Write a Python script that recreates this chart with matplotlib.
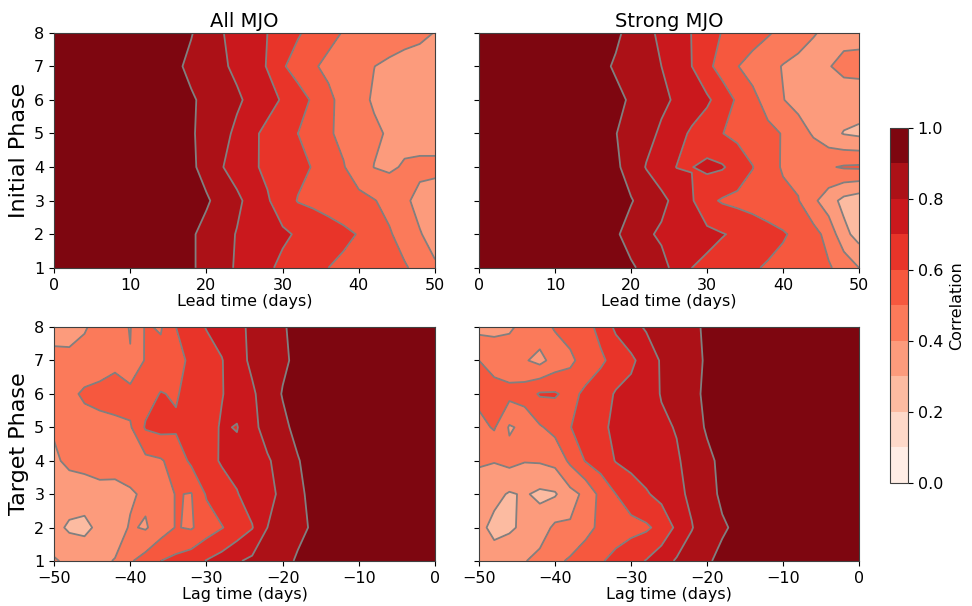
import numpy as np
import matplotlib
matplotlib.use('Agg')
import matplotlib.pyplot as plt

phases = [1, 2, 3, 4, 5, 6, 7, 8]
lead_days = [0, 10, 16, 18, 20, 22, 24, 26, 28, 30, 32, 34, 36, 38, 40, 42, 44, 46, 48, 50]
lag_days = [-50, -48, -46, -44, -42, -40, -38, -36, -34, -32, -30, -28, -26, -24, -22, -20, -18, -16, -14, -10, 0]

# correlation, rows = phase 1..8, columns = lead_days
corr_all_lead = [
    [1, 0.96, 0.93, 0.91, 0.875, 0.83, 0.79, 0.75, 0.715, 0.68, 0.655, 0.63, 0.60, 0.58, 0.565, 0.545, 0.525, 0.51, 0.47, 0.41],
    [1, 0.96, 0.93, 0.91, 0.875, 0.835, 0.795, 0.77, 0.745, 0.715, 0.69, 0.665, 0.645, 0.62, 0.595, 0.555, 0.51, 0.46, 0.405, 0.37],
    [1, 0.96, 0.935, 0.925, 0.91, 0.87, 0.82, 0.765, 0.71, 0.65, 0.595, 0.58, 0.56, 0.545, 0.525, 0.505, 0.47, 0.415, 0.375, 0.36],
    [1, 0.96, 0.93, 0.915, 0.87, 0.805, 0.76, 0.715, 0.68, 0.655, 0.625, 0.595, 0.55, 0.505, 0.45, 0.398, 0.385, 0.41, 0.42, 0.42],
    [1, 0.96, 0.93, 0.91, 0.87, 0.83, 0.78, 0.72, 0.675, 0.64, 0.60, 0.555, 0.51, 0.48, 0.445, 0.415, 0.39, 0.37, 0.36, 0.36],
    [1, 0.955, 0.93, 0.91, 0.88, 0.85, 0.815, 0.775, 0.735, 0.69, 0.64, 0.587, 0.52, 0.47, 0.425, 0.39, 0.37, 0.36, 0.36, 0.36],
    [1, 0.95, 0.915, 0.88, 0.85, 0.815, 0.78, 0.74, 0.695, 0.61, 0.56, 0.51, 0.48, 0.453, 0.427, 0.401, 0.38, 0.37, 0.37, 0.37],
    [1, 0.96, 0.93, 0.905, 0.86, 0.805, 0.77, 0.735, 0.70, 0.655, 0.61, 0.57, 0.525, 0.495, 0.48, 0.465, 0.455, 0.43, 0.415, 0.398],
]

corr_strong_lead = [
    [1, 0.965, 0.94, 0.925, 0.91, 0.88, 0.83, 0.77, 0.70, 0.68, 0.655, 0.63, 0.61, 0.59, 0.57, 0.55, 0.53, 0.51, 0.465, 0.40],
    [1, 0.96, 0.93, 0.91, 0.87, 0.815, 0.785, 0.765, 0.745, 0.725, 0.705, 0.685, 0.66, 0.635, 0.61, 0.575, 0.535, 0.465, 0.33, 0.26],
    [1, 0.965, 0.94, 0.925, 0.905, 0.87, 0.825, 0.77, 0.71, 0.625, 0.59, 0.575, 0.56, 0.54, 0.525, 0.505, 0.42, 0.345, 0.27, 0.24],
    [1, 0.96, 0.93, 0.915, 0.865, 0.795, 0.745, 0.698, 0.698, 0.72, 0.71, 0.66, 0.603, 0.54, 0.49, 0.47, 0.47, 0.49, 0.51, 0.515],
    [1, 0.96, 0.925, 0.902, 0.87, 0.83, 0.785, 0.735, 0.685, 0.645, 0.602, 0.575, 0.55, 0.523, 0.495, 0.44, 0.39, 0.335, 0.295, 0.28],
    [1, 0.96, 0.935, 0.92, 0.89, 0.855, 0.82, 0.787, 0.752, 0.716, 0.655, 0.585, 0.525, 0.465, 0.403, 0.37, 0.355, 0.35, 0.35, 0.35],
    [1, 0.955, 0.92, 0.89, 0.86, 0.83, 0.80, 0.75, 0.70, 0.625, 0.56, 0.503, 0.465, 0.43, 0.395, 0.375, 0.37, 0.395, 0.425, 0.43],
    [1, 0.96, 0.93, 0.915, 0.875, 0.825, 0.78, 0.74, 0.698, 0.65, 0.595, 0.565, 0.54, 0.51, 0.475, 0.44, 0.405, 0.385, 0.37, 0.37],
]

# rows = phase 1..8, columns = lag_days
corr_all_lag = [
    [0.41, 0.38, 0.385, 0.38, 0.405, 0.49, 0.54, 0.60, 0.625, 0.66, 0.705, 0.74, 0.79, 0.82, 0.845, 0.875, 0.91, 0.935, 0.95, 0.97, 1],
    [0.33, 0.285, 0.27, 0.33, 0.35, 0.41, 0.39, 0.45, 0.505, 0.49, 0.55, 0.595, 0.64, 0.695, 0.80, 0.85, 0.88, 0.91, 0.93, 0.96, 1],
    [0.35, 0.35, 0.355, 0.37, 0.36, 0.385, 0.42, 0.45, 0.505, 0.495, 0.61, 0.655, 0.695, 0.74, 0.775, 0.82, 0.88, 0.925, 0.945, 0.965, 1],
    [0.385, 0.42, 0.43, 0.44, 0.45, 0.46, 0.475, 0.49, 0.54, 0.62, 0.665, 0.71, 0.73, 0.76, 0.79, 0.835, 0.895, 0.935, 0.95, 0.97, 1],
    [0.41, 0.43, 0.45, 0.47, 0.48, 0.49, 0.61, 0.63, 0.615, 0.645, 0.66, 0.71, 0.695, 0.775, 0.835, 0.88, 0.925, 0.94, 0.95, 0.97, 1],
    [0.43, 0.47, 0.52, 0.53, 0.535, 0.54, 0.56, 0.605, 0.59, 0.64, 0.67, 0.695, 0.74, 0.785, 0.85, 0.905, 0.925, 0.94, 0.95, 0.97, 1],
    [0.43, 0.42, 0.42, 0.45, 0.48, 0.405, 0.51, 0.535, 0.575, 0.615, 0.655, 0.695, 0.76, 0.82, 0.85, 0.885, 0.92, 0.94, 0.955, 0.97, 1],
    [0.36, 0.37, 0.395, 0.42, 0.44, 0.395, 0.51, 0.49, 0.60, 0.655, 0.705, 0.74, 0.78, 0.815, 0.85, 0.89, 0.93, 0.945, 0.955, 0.97, 1],
]

corr_strong_lag = [
    [0.36, 0.35, 0.37, 0.395, 0.43, 0.475, 0.515, 0.55, 0.59, 0.63, 0.665, 0.705, 0.76, 0.81, 0.85, 0.89, 0.92, 0.94, 0.95, 0.97, 1],
    [0.33, 0.27, 0.285, 0.32, 0.35, 0.42, 0.41, 0.47, 0.52, 0.55, 0.57, 0.585, 0.63, 0.72, 0.795, 0.86, 0.89, 0.915, 0.935, 0.96, 1],
    [0.36, 0.33, 0.29, 0.31, 0.28, 0.29, 0.37, 0.42, 0.53, 0.60, 0.65, 0.69, 0.73, 0.775, 0.82, 0.87, 0.915, 0.935, 0.95, 0.97, 1],
    [0.41, 0.405, 0.43, 0.405, 0.41, 0.43, 0.52, 0.605, 0.645, 0.705, 0.73, 0.75, 0.77, 0.79, 0.83, 0.88, 0.92, 0.94, 0.955, 0.97, 1],
    [0.47, 0.51, 0.39, 0.42, 0.49, 0.53, 0.598, 0.63, 0.68, 0.72, 0.745, 0.765, 0.785, 0.805, 0.86, 0.91, 0.93, 0.945, 0.955, 0.97, 1],
    [0.53, 0.54, 0.53, 0.55, 0.61, 0.61, 0.57, 0.62, 0.65, 0.71, 0.73, 0.76, 0.805, 0.84, 0.88, 0.915, 0.935, 0.95, 0.96, 0.97, 1],
    [0.50, 0.46, 0.44, 0.41, 0.37, 0.44, 0.48, 0.54, 0.585, 0.63, 0.68, 0.745, 0.81, 0.84, 0.875, 0.91, 0.935, 0.95, 0.96, 0.97, 1],
    [0.37, 0.375, 0.39, 0.42, 0.46, 0.51, 0.54, 0.57, 0.625, 0.72, 0.77, 0.81, 0.83, 0.85, 0.88, 0.915, 0.935, 0.95, 0.96, 0.97, 1],
]

levels = np.linspace(0, 1, 11)
fs = 11.5

fig = plt.figure(figsize=(9.72, 6.06), dpi=100)
ax_tl = fig.add_axes([0.0556, 0.558, 0.392, 0.388])
ax_tr = fig.add_axes([0.4928, 0.558, 0.391, 0.388])
ax_bl = fig.add_axes([0.0556, 0.0743, 0.392, 0.386])
ax_br = fig.add_axes([0.4928, 0.0743, 0.391, 0.386])
cax = fig.add_axes([0.9156, 0.203, 0.0185, 0.586])


def draw(ax, x, z):
    cf = ax.contourf(x, phases, np.array(z), levels=levels, cmap='Reds')
    ax.contour(x, phases, np.array(z), levels=levels[1:-1], colors='gray', linewidths=1.3)
    ax.set_yticks(phases)
    ax.tick_params(labelsize=fs)
    for s in ax.spines.values():
        s.set_edgecolor('0.25')
    return cf


cf = draw(ax_tl, lead_days, corr_all_lead)
draw(ax_tr, lead_days, corr_strong_lead)
draw(ax_bl, lag_days, corr_all_lag)
draw(ax_br, lag_days, corr_strong_lag)

for ax in [ax_tl, ax_tr]:
    ax.set_xticks([0, 10, 20, 30, 40, 50])
    ax.set_xlabel('Lead time (days)', fontsize=fs, labelpad=1)
for ax in [ax_bl, ax_br]:
    ax.set_xticks([-50, -40, -30, -20, -10, 0])
    ax.set_xlabel('Lag time (days)', fontsize=fs, labelpad=1)
for ax in [ax_tr, ax_br]:
    ax.set_yticklabels([])

ax_tl.set_title('All MJO', fontsize=14, pad=4)
ax_tr.set_title('Strong MJO', fontsize=14, pad=4)
ax_tl.set_ylabel('Initial Phase', fontsize=16)
ax_bl.set_ylabel('Target Phase', fontsize=16)

cb = fig.colorbar(cf, cax=cax)
cb.set_ticks([0, 0.2, 0.4, 0.6, 0.8, 1.0])
cb.ax.tick_params(labelsize=fs)
cb.set_label('Correlation', fontsize=fs)
cb.outline.set_edgecolor('0.25')

fig.savefig('out.png', dpi=100)
